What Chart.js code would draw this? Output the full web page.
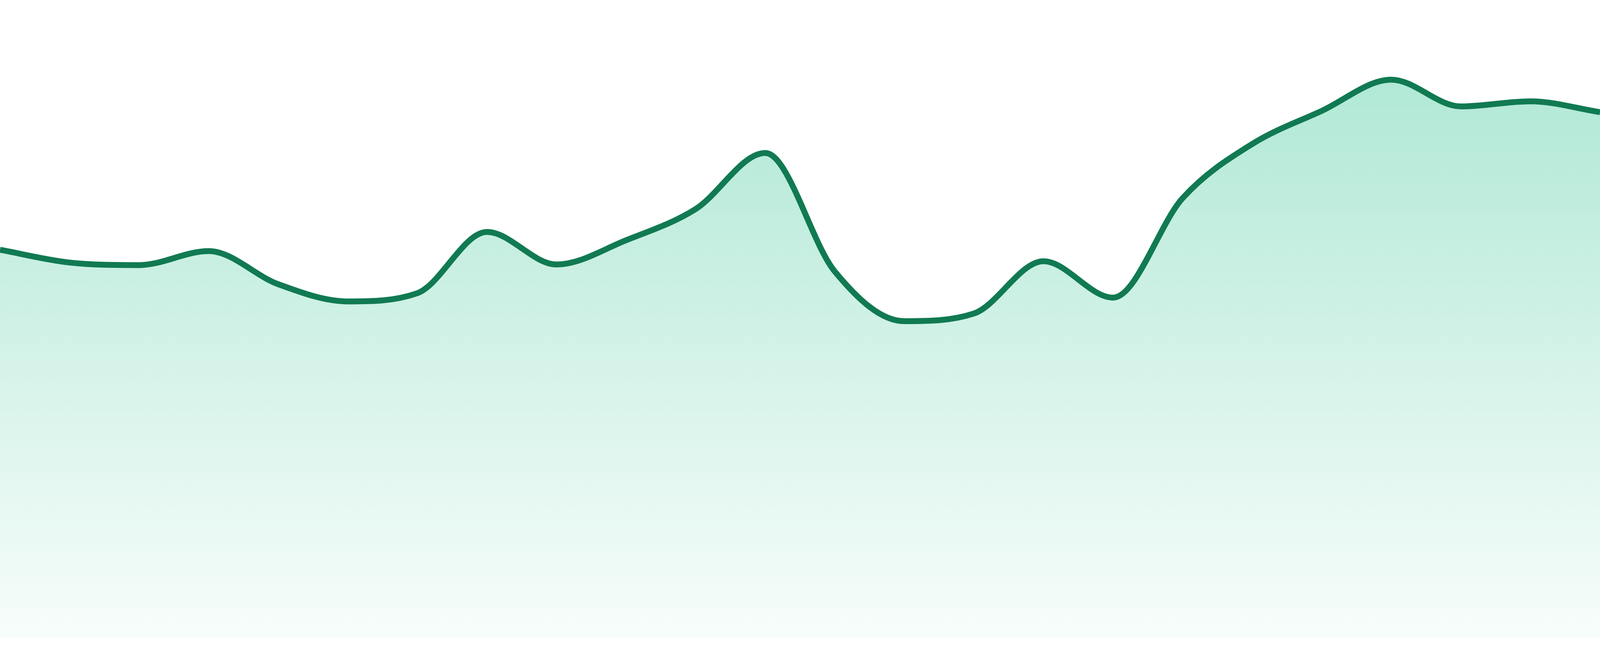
<!DOCTYPE html>
<html>
<head>
<meta charset="utf-8">
<title>Area chart</title>
<script src="https://cdn.jsdelivr.net/npm/chart.js@4.4.1/dist/chart.umd.min.js"></script>
<style>
    html, body { margin: 0; padding: 0; background: #ffffff; overflow: hidden; }
    #wrap { position: relative; width: 100vw; height: 100vh; }
</style>
</head>
<body>
<div id="wrap"><canvas id="chart"></canvas></div>
<script>
// hours of the day (axes are hidden in the picture)
const hours = ['00:00', '01:00', '02:00', '03:00', '04:00', '05:00', '06:00', '07:00',
    '08:00', '09:00', '10:00', '11:00', '12:00', '13:00', '14:00', '15:00',
    '16:00', '17:00', '18:00', '19:00', '20:00', '21:00', '22:00', '23:00'];

// values (0 - 100 scale)
const values = [60.8, 58.8, 58.4, 60.6, 55.4, 52.7, 54.0, 63.6,
    58.5, 62.3, 67.2, 76.0, 57.4, 49.6, 50.8, 59.0,
    53.3, 68.9, 77.4, 82.6, 87.5, 83.3, 84.1, 82.4];

const yMin = 0;
const yMax = 100;

// the picture is 1680px tall; keep sizes relative to that
const unit = window.innerHeight / 1680;

function fillGradient(context) {
    const chart = context.chart;
    const area = chart.chartArea;
    if (!area) {
        return 'rgba(16, 185, 129, 0.2)';
    }
    const g = chart.ctx.createLinearGradient(0, area.top, 0, area.bottom);
    g.addColorStop(0, 'rgba(16, 185, 129, 0.37)');
    g.addColorStop(1, 'rgba(16, 185, 129, 0.03)');
    return g;
}

const ctx = document.getElementById('chart').getContext('2d');
new Chart(ctx, {
    type: 'line',
    data: {
        labels: hours,
        datasets: [{
            data: values,
            borderColor: 'rgb(17, 122, 82)',
            borderWidth: 15 * unit,
            backgroundColor: fillGradient,
            fill: 'start',
            pointRadius: 0,
            pointHoverRadius: 0,
            cubicInterpolationMode: 'monotone'
        }]
    },
    options: {
        responsive: true,
        maintainAspectRatio: false,
        animation: false,
        layout: {
            padding: { top: 0, right: 0, bottom: 48 * unit, left: 0 }
        },
        plugins: {
            legend: { display: false },
            tooltip: { enabled: false }
        },
        scales: {
            x: { display: false },
            y: { display: false, min: yMin, max: yMax }
        }
    }
});
</script>
</body>
</html>
